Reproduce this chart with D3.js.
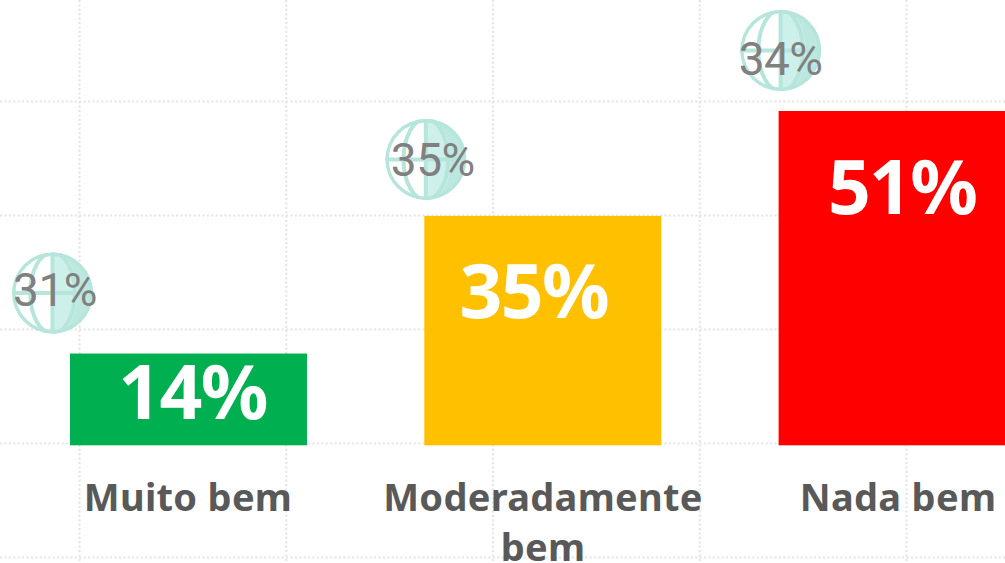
<!DOCTYPE html>
<html><head><meta charset="utf-8">
<script src="https://cdnjs.cloudflare.com/ajax/libs/d3/7.8.5/d3.min.js"></script>
<style>html,body{margin:0;padding:0;background:#fff;overflow:hidden}svg{display:block}</style>
</head><body><svg id="c" width="1005" height="563"></svg>
<script>
const categories = ["Muito bem", "Moderadamente bem", "Nada bem"];
const values = [14, 35, 51];
const globalValues = [31, 35, 34];
const colors = ["#00b050", "#ffc000", "#ff0000"];
const gridX = [0, 1, 2, 3, 4];
const gridY = [0, 1, 2, 3, 4];
const labelLines = [["Muito bem"], ["Moderadamente", "bem"], ["Nada bem"]];

const W = 1005, H = 563;
const svg = d3.select("#c");
const sans = "'Noto Sans','Open Sans',sans-serif";

const x = d3.scaleBand().domain(categories).range([70, 1015.6]).paddingInner(0.3311).paddingOuter(0);
const y = d3.scaleLinear().domain([0, 51]).range([445.3, 111]);
const gx = d3.scaleLinear().domain([0, 4]).range([79.5, 906.5]);
const gy = d3.scaleLinear().domain([0, 4]).range([101.5, 557.5]);

const grid = svg.append("g").attr("stroke", "#e6e6e6").attr("stroke-width", 2.2).attr("stroke-dasharray", "2.2 2.2");
grid.selectAll(".v").data(gridX).join("line").attr("class", "v")
  .attr("x1", d => gx(d)).attr("x2", d => gx(d)).attr("y1", 0).attr("y2", H);
grid.selectAll(".h").data(gridY).join("line").attr("class", "h")
  .attr("x1", 0).attr("x2", W).attr("y1", d => gy(d)).attr("y2", d => gy(d));

svg.selectAll(".bar").data(categories).join("rect").attr("class", "bar")
  .attr("x", d => x(d)).attr("width", x.bandwidth())
  .attr("y", (d, i) => y(values[i])).attr("height", (d, i) => y(0) - y(values[i]))
  .attr("fill", (d, i) => colors[i]);

// bar value labels: offsets from the band centre and the bar top
const labelDx = [4, -9, 5];
const labelDy = [65, 102, 103];
svg.selectAll(".val").data(categories).join("text").attr("class", "val")
  .attr("x", (d, i) => x(d) + x.bandwidth() / 2 + labelDx[i])
  .attr("y", (d, i) => y(values[i]) + labelDy[i])
  .attr("text-anchor", "middle").attr("fill", "#fff")
  .style("font", `700 75px ${sans}`).style("letter-spacing", "-1.7px")
  .text((d, i) => values[i] + "%");

// globe badges
const globeDx = [-17.5, 1.5, 2];
const globeDy = [-60.5, -56.5, -60.5];
const globeTextDx = [2.5, 7, 0];
const globeTextDy = [12.5, 16.5, 24.5];
const r = 40.5;
const defs = svg.append("defs");
defs.append("clipPath").attr("id", "gc").append("circle").attr("r", r);
const globe = svg.selectAll(".globe").data(categories).join("g").attr("class", "globe")
  .attr("transform", (d, i) => `translate(${x(d) + globeDx[i]},${y(values[i]) + globeDy[i]})`);
globe.append("path").attr("fill", "#bce8df")
  .attr("d", d3.arc()({innerRadius: 0, outerRadius: r, startAngle: 0, endAngle: Math.PI}));
// lighter inner half of the right meridian
const inner = globe.append("g").attr("clip-path", "url(#gc)");
inner.append("path").attr("fill", "#cdf0ea")
  .attr("d", d3.arc()({innerRadius: 0, outerRadius: r * 0.62, startAngle: 0, endAngle: Math.PI}))
  .attr("transform", "scale(1,1.7)");
const ink = globe.append("g").attr("clip-path", "url(#gc)").attr("fill", "none").attr("stroke", "#b6e5dc").attr("stroke-width", 4);
ink.append("circle").attr("r", r - 1.5);
ink.append("line").attr("x1", 0).attr("x2", 0).attr("y1", -r).attr("y2", r);
ink.append("line").attr("x1", -r).attr("x2", r).attr("y1", 0).attr("y2", 0);
ink.append("ellipse").attr("rx", r * 0.55).attr("ry", r);
globe.append("text").attr("x", (d, i) => globeTextDx[i]).attr("y", (d, i) => globeTextDy[i])
  .attr("text-anchor", "middle").attr("fill", "#808080")
  .style("font", `400 46px Roboto,${sans}`).style("letter-spacing", "-0.5px")
  .text((d, i) => globalValues[i] + "%");

// category labels
const catCx = [188, 543, 898];
const cat = svg.selectAll(".cat").data(categories).join("text").attr("class", "cat")
  .attr("text-anchor", "middle").attr("fill", "#595959")
  .style("font", `700 38px ${sans}`).style("letter-spacing", "0.3px");
cat.each(function(d, i) {
  d3.select(this).selectAll("tspan").data(labelLines[i]).join("tspan")
    .attr("x", catCx[i]).attr("y", (t, j) => 511 + j * 50).text(t => t);
});
</script></body></html>
